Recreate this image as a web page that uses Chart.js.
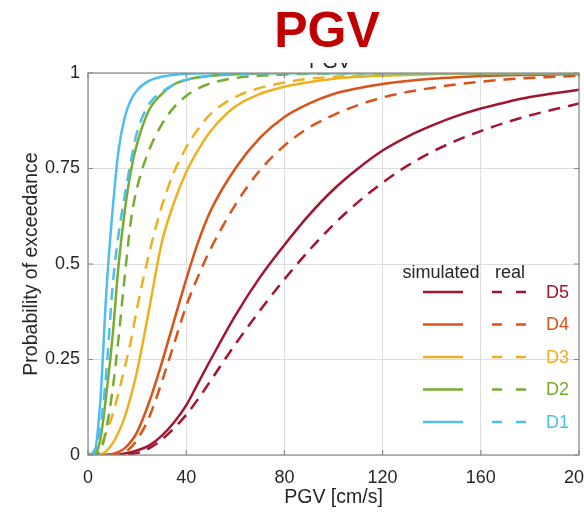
<!DOCTYPE html>
<html>
<head>
<meta charset="utf-8">
<title>PGV</title>
<script src="https://cdn.jsdelivr.net/npm/chart.js@4.4.1/dist/chart.umd.min.js"></script>
<style>
  html, body { margin: 0; padding: 0; background: #fff; }
  #pgvChart { display: block; }
</style>
</head>
<body>
<canvas id="pgvChart" width="584" height="512"></canvas>
<script>
// PGV values (cm/s) shared by every curve
const pgv = [0, 2.5, 5, 7.5, 10, 12.5, 15, 17.5, 20, 25, 30, 35, 40, 45, 50, 60, 70, 80, 90, 100, 110, 120, 130, 140, 150, 160, 170, 180, 190, 200];

// probability of exceedance, simulated vs real, per damage state
const d1Sim  = [0, 0.005, 0.14, 0.43, 0.64, 0.8, 0.885, 0.93, 0.955, 0.98, 0.99, 0.995, 0.998, 0.999, 1, 1, 1, 1, 1, 1, 1, 1, 1, 1, 1, 1, 1, 1, 1, 1];
const d1Real = [0, 0.01, 0.07, 0.22, 0.44, 0.58, 0.68, 0.77, 0.845, 0.92, 0.95, 0.97, 0.982, 0.988, 0.993, 0.997, 0.999, 1, 1, 1, 1, 1, 1, 1, 1, 1, 1, 1, 1, 1];
const d2Sim  = [0, 0.002, 0.04, 0.16, 0.31, 0.5, 0.64, 0.745, 0.815, 0.905, 0.945, 0.97, 0.982, 0.989, 0.993, 0.997, 0.999, 1, 1, 1, 1, 1, 1, 1, 1, 1, 1, 1, 1, 1];
const d2Real = [0, 0.002, 0.01, 0.07, 0.17, 0.31, 0.47, 0.615, 0.7, 0.8, 0.865, 0.91, 0.94, 0.96, 0.973, 0.987, 0.993, 0.996, 0.998, 0.999, 1, 1, 1, 1, 1, 1, 1, 1, 1, 1];
const d3Sim  = [0, 0, 0.002, 0.01, 0.03, 0.06, 0.1, 0.155, 0.22, 0.385, 0.555, 0.66, 0.74, 0.8, 0.848, 0.912, 0.945, 0.964, 0.976, 0.985, 0.99, 0.993, 0.995, 0.997, 0.998, 0.998, 0.999, 0.999, 1, 1];
const d3Real = [0, 0.002, 0.02, 0.06, 0.105, 0.165, 0.23, 0.3, 0.385, 0.53, 0.65, 0.74, 0.805, 0.855, 0.893, 0.937, 0.961, 0.975, 0.985, 0.99, 0.993, 0.995, 0.997, 0.998, 0.999, 0.999, 1, 1, 1, 1];
const d4Sim  = [0, 0, 0, 0.001, 0.003, 0.008, 0.018, 0.035, 0.06, 0.14, 0.24, 0.35, 0.46, 0.56, 0.64, 0.75, 0.83, 0.885, 0.92, 0.945, 0.96, 0.971, 0.979, 0.985, 0.989, 0.992, 0.994, 0.995, 0.996, 0.997];
const d4Real = [0, 0, 0, 0, 0, 0.002, 0.008, 0.02, 0.04, 0.1, 0.19, 0.29, 0.39, 0.47, 0.54, 0.655, 0.745, 0.81, 0.857, 0.89, 0.916, 0.936, 0.95, 0.961, 0.97, 0.977, 0.983, 0.987, 0.99, 0.993];
const d5Sim  = [0, 0, 0, 0, 0, 0.002, 0.004, 0.007, 0.012, 0.025, 0.05, 0.085, 0.13, 0.19, 0.25, 0.365, 0.465, 0.55, 0.628, 0.695, 0.75, 0.797, 0.833, 0.862, 0.887, 0.907, 0.923, 0.937, 0.947, 0.956];
const d5Real = [0, 0, 0, 0, 0, 0, 0.001, 0.003, 0.005, 0.018, 0.04, 0.07, 0.105, 0.148, 0.195, 0.29, 0.378, 0.46, 0.535, 0.603, 0.662, 0.713, 0.757, 0.793, 0.823, 0.848, 0.87, 0.889, 0.905, 0.92];

const damageStates = ['D1', 'D2', 'D3', 'D4', 'D5'];
const simulatedSeries = [d1Sim, d2Sim, d3Sim, d4Sim, d5Sim];
const realSeries = [d1Real, d2Real, d3Real, d4Real, d5Real];
const stateColors = ['#4DBEEE', '#77AC30', '#EDB120', '#D95319', '#A2142F'];

const xTicks = [0, 40, 80, 120, 160, 200];
const yTicks = [0, 0.25, 0.5, 0.75, 1];

const FONT = "'Liberation Sans', Arial, sans-serif";
const TEXT = '#262626';

function toPoints(values) {
    return pgv.map((x, i) => ({ x: x, y: values[i] }));
}

// D1 first so it ends up on top
const datasets = [];
damageStates.forEach((name, i) => {
    datasets.push({
        label: name + ' simulated',
        data: toPoints(simulatedSeries[i]),
        borderColor: stateColors[i],
        borderWidth: 2.5,
        pointRadius: 0,
        cubicInterpolationMode: 'monotone'
    });
    datasets.push({
        label: name + ' real',
        data: toPoints(realSeries[i]),
        borderColor: stateColors[i],
        borderWidth: 2.5,
        borderDash: [12, 8],
        pointRadius: 0,
        cubicInterpolationMode: 'monotone'
    });
});

// box around the axes with inward tick marks on all four sides
const axesBox = {
    id: 'axesBox',
    afterDatasetsDraw(chart) {
        const { ctx, chartArea: a, scales } = chart;
        ctx.save();
        ctx.strokeStyle = '#8a8a8a';
        ctx.lineWidth = 1.2;
        ctx.strokeRect(a.left, a.top, a.right - a.left, a.bottom - a.top);
        ctx.beginPath();
        xTicks.forEach(v => {
            const px = scales.x.getPixelForValue(v);
            ctx.moveTo(px, a.bottom); ctx.lineTo(px, a.bottom - 5);
            ctx.moveTo(px, a.top); ctx.lineTo(px, a.top + 5);
        });
        yTicks.forEach(v => {
            const py = scales.y.getPixelForValue(v);
            ctx.moveTo(a.left, py); ctx.lineTo(a.left + 5, py);
            ctx.moveTo(a.right, py); ctx.lineTo(a.right - 5, py);
        });
        ctx.stroke();
        ctx.restore();
    }
};

// two-column legend: simulated (solid) and real (dashed)
const stateLegend = {
    id: 'stateLegend',
    afterDraw(chart) {
        const ctx = chart.ctx;
        ctx.save();
        ctx.font = '18px ' + FONT;
        ctx.textBaseline = 'middle';
        ctx.textAlign = 'center';
        ctx.fillStyle = TEXT;
        ctx.fillText('simulated', 441, 273);
        ctx.fillText('real', 510, 273);
        ctx.lineWidth = 2.5;
        ctx.textAlign = 'left';
        for (let i = damageStates.length - 1, row = 0; i >= 0; i--, row++) {
            const y = 292 + row * 32.5;
            ctx.strokeStyle = stateColors[i];
            ctx.setLineDash([]);
            ctx.beginPath(); ctx.moveTo(423, y); ctx.lineTo(463, y); ctx.stroke();
            ctx.setLineDash([10, 14]);
            ctx.beginPath(); ctx.moveTo(492, y); ctx.lineTo(527, y); ctx.stroke();
            ctx.fillStyle = stateColors[i];
            ctx.fillText(damageStates[i], 546, y + 1);
        }
        ctx.restore();
    }
};

// big red heading, with the axes title peeking out underneath it
const heading = {
    id: 'heading',
    afterDraw(chart) {
        const ctx = chart.ctx;
        ctx.save();
        ctx.beginPath();
        ctx.rect(0, 63, 584, 9);
        ctx.clip();
        ctx.font = '20px ' + FONT;
        ctx.fillStyle = TEXT;
        ctx.textAlign = 'center';
        ctx.textBaseline = 'alphabetic';
        ctx.fillText('PGV', 330, 68);
        ctx.restore();

        ctx.save();
        ctx.font = 'bold 50px ' + FONT;
        ctx.fillStyle = '#C00000';
        ctx.textAlign = 'center';
        ctx.textBaseline = 'alphabetic';
        ctx.fillText('PGV', 327, 47);
        ctx.restore();
    }
};

new Chart(document.querySelector('#pgvChart'), {
    type: 'line',
    data: { datasets: datasets },
    options: {
        responsive: false,
        animation: false,
        layout: { padding: { top: 73, right: 5, bottom: 0, left: 0 } },
        plugins: {
            legend: { display: false },
            title: { display: false },
            tooltip: { enabled: false }
        },
        scales: {
            x: {
                type: 'linear',
                min: 0,
                max: 200,
                afterBuildTicks: s => { s.ticks = xTicks.map(v => ({ value: v })); },
                afterFit: s => { s.height = 57; s.paddingLeft = 0; s.paddingRight = 0; },
                ticks: {
                    padding: 12,
                    color: TEXT,
                    font: { family: FONT, size: 18 },
                    maxRotation: 0,
                    autoSkip: false,
                    callback: v => String(v)
                },
                grid: { color: '#dedede', drawTicks: false },
                border: { display: false },
                title: {
                    display: true,
                    text: 'PGV [cm/s]',
                    color: TEXT,
                    font: { family: FONT, size: 19.5 },
                    padding: { top: 0, bottom: 3 }
                }
            },
            y: {
                min: 0,
                max: 1,
                afterBuildTicks: s => { s.ticks = yTicks.map(v => ({ value: v })); },
                afterFit: s => { s.width = 88; s.paddingTop = 0; s.paddingBottom = 0; },
                ticks: {
                    padding: 8,
                    color: TEXT,
                    font: { family: FONT, size: 18 },
                    callback: v => String(v)
                },
                grid: { color: '#dedede', drawTicks: false },
                border: { display: false },
                title: {
                    display: true,
                    text: 'Probability of exceedance',
                    color: TEXT,
                    font: { family: FONT, size: 19.5 },
                    padding: { top: 20, bottom: 0 }
                }
            }
        }
    },
    plugins: [axesBox, stateLegend, heading]
});
</script>
</body>
</html>
